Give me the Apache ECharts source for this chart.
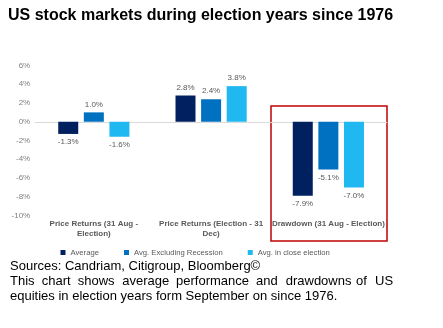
<!DOCTYPE html>
<html><head><meta charset="utf-8">
<script src="https://cdn.jsdelivr.net/npm/echarts@6/dist/echarts.min.js"></script>
<style>html,body{margin:0;padding:0;background:#fff;}#c{width:443px;height:328px;}</style>
</head><body><div id="c"></div>
<script>
const categories = ['Price Returns (31 Aug -\nElection)', 'Price Returns (Election - 31\nDec)', 'Drawdown (31 Aug - Election)'];
const seriesNames = ['Average', 'Avg. Excluding Recession', 'Avg. in close election'];
const average = [-1.3, 2.8, -7.9];
const avgExRecession = [1.0, 2.4, -5.1];
const avgCloseElection = [-1.6, 3.8, -7.0];
const yTicks = {min: -10, max: 6, interval: 2};
const titleText = 'US stock markets during election years since 1976';
const sourceLine = 'Sources: Candriam, Citigroup, Bloomberg©';
const noteLine1Words = ['This', 'chart', 'shows', 'average', 'performance', 'and', 'drawdowns', 'of', 'US'];
const noteLine2 = 'equities in election years form September on since 1976.';

const FONT = '"Liberation Sans", Arial, sans-serif';
const colors = ['#002060', '#0070C0', '#20B8F0'];
const allSeries = [average, avgExRecession, avgCloseElection];

const chart = echarts.init(document.getElementById('c'), null, {renderer: 'canvas'});

const wordX = [10, 41.7, 77.7, 122.3, 176, 256, 285.7, 356, 375];
const graphics = [
  {type: 'text', left: 8, top: 8, style: {text: titleText, font: 'bold 16px ' + FONT, fill: '#000'}},
  {type: 'rect', shape: {x: 271, y: 106, width: 116, height: 135}, style: {fill: 'none', stroke: '#C00000', lineWidth: 1.5}},
  {type: 'text', left: 10, top: 260, style: {text: sourceLine, font: '13px ' + FONT, fill: '#000'}},
  {type: 'text', left: 10, top: 289.5, style: {text: noteLine2, font: '13px ' + FONT, fill: '#000'}}
];
noteLine1Words.forEach((w, i) => {
  graphics.push({type: 'text', left: wordX[i], top: 275, style: {text: w, font: '13px ' + FONT, fill: '#000'}});
});

chart.setOption({
  animation: false,
  textStyle: {fontFamily: FONT},
  color: colors,
  grid: {left: 35.2, right: 56, top: 65.5, bottom: 112.5, containLabel: false},
  legend: {
    top: 243.5, left: 55.5,
    itemWidth: 5, itemHeight: 5, itemGap: 25,
    icon: 'rect',
    textStyle: {fontSize: 7.7, color: '#595959'},
    data: seriesNames
  },
  xAxis: {
    type: 'category',
    data: categories,
    axisLine: {onZero: true, lineStyle: {color: '#D9D9D9', width: 1}},
    axisTick: {show: false},
    axisLabel: {interval: 0, fontSize: 8, color: '#595959', fontWeight: 'bold', lineHeight: 10, margin: 3},
    position: 'bottom'
  },
  yAxis: {
    type: 'value', min: yTicks.min, max: yTicks.max, interval: yTicks.interval,
    axisLine: {show: false}, axisTick: {show: false}, splitLine: {show: false},
    axisLabel: {fontSize: 8, color: '#7F7F7F', formatter: v => v + '%', margin: 5}
  },
  series: allSeries.map((vals, i) => ({
    name: seriesNames[i],
    type: 'bar',
    barWidth: 20,
    barGap: '28%',
    data: vals.map(v => ({
      value: v,
      label: {show: true, position: v < 0 ? 'bottom' : 'top', distance: 4,
              fontSize: 8, color: '#595959', formatter: p => p.value.toFixed(1) + '%'}
    }))
  })),
  graphic: graphics
});
</script></body></html>
